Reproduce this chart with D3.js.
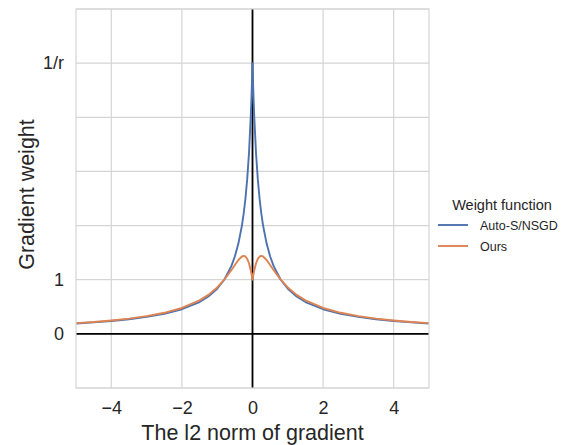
<!DOCTYPE html>
<html>
<head>
<meta charset="utf-8">
<script src="https://cdn.jsdelivr.net/npm/d3@7"></script>
<style>
  body { margin: 0; background: #fff; }
  svg { font-family: "Liberation Sans", Arial, sans-serif; }
  .grid line { stroke: #d5d5d5; stroke-width: 1.2; }
  .axis path, .axis line { display: none; }
  .axis text { font-size: 18px; fill: #262626; font-family: "Liberation Sans", Arial, sans-serif; }
</style>
</head>
<body>
<svg id="chart" width="574" height="445"></svg>
<script>
// gradient norm samples
var gradX = [-5, -4.5, -4, -3.5, -3, -2.5, -2, -1.5, -1.25, -1, -0.8, -0.6, -0.5, -0.4, -0.3, -0.25, -0.2, -0.15, -0.1, -0.05, -0.035, -0.02, -0.01,
    0, 0.01, 0.02, 0.035, 0.05, 0.1, 0.15, 0.2, 0.25, 0.3, 0.4, 0.5, 0.6, 0.8, 1, 1.25, 1.5, 2, 2.5, 3, 3.5, 4, 4.5, 5];
var autoS = [0.192, 0.213, 0.238, 0.270, 0.313, 0.370, 0.455, 0.588, 0.690, 0.833, 1.0, 1.25, 1.429, 1.667, 2.0, 2.222, 2.5, 2.857, 3.333, 4.0, 4.255, 4.545, 4.762,
    5.0, 4.762, 4.545, 4.255, 4.0, 3.333, 2.857, 2.5, 2.222, 2.0, 1.667, 1.429, 1.25, 1.0, 0.833, 0.690, 0.588, 0.455, 0.370, 0.313, 0.270, 0.238, 0.213, 0.192];
var ours = [0.199, 0.220, 0.247, 0.281, 0.327, 0.389, 0.478, 0.618, 0.720, 0.857, 1.0, 1.176, 1.273, 1.364, 1.429, 1.440, 1.429, 1.386, 1.304, 1.176, 1.128, 1.076, 1.039,
    1.0, 1.039, 1.076, 1.128, 1.176, 1.304, 1.386, 1.429, 1.440, 1.429, 1.364, 1.273, 1.176, 1.0, 0.857, 0.720, 0.618, 0.478, 0.389, 0.327, 0.281, 0.247, 0.220, 0.199];

var seriesNames = ["Auto-S/NSGD", "Ours"];
var seriesColors = ["#4c72b0", "#dd8452"];
var xTicks = [-4, -2, 0, 2, 4];
var yGrid = [-1, 0, 1, 2, 3, 4, 5, 6];
var yTicks = [0, 1, 5];
var yTickLabels = ["0", "1", "1/r"];

var margin = { top: 9, left: 76, right: 145, bottom: 57 };
var width = 574 - margin.left - margin.right,
    height = 445 - margin.top - margin.bottom;

var svg = d3.select("#chart");
var g = svg.append("g").attr("transform", "translate(" + margin.left + "," + margin.top + ")");

var x = d3.scaleLinear().domain([-5, 5]).range([0, width]);
var y = d3.scaleLinear().domain([-1, 6]).range([height, 0]);

g.append("g").attr("class", "grid")
    .selectAll("line").data(xTicks).enter().append("line")
    .attr("x1", d => x(d)).attr("x2", d => x(d)).attr("y1", 0).attr("y2", height);
g.append("g").attr("class", "grid")
    .selectAll("line").data(yGrid).enter().append("line")
    .attr("y1", d => y(d)).attr("y2", d => y(d)).attr("x1", 0).attr("x2", width);

g.append("defs").append("clipPath").attr("id", "clip")
    .append("rect").attr("width", width).attr("height", height);

// black zero lines
g.append("line").attr("x1", 0).attr("x2", width).attr("y1", y(0)).attr("y2", y(0))
    .attr("stroke", "#000").attr("stroke-width", 1.8);
g.append("line").attr("x1", x(0)).attr("x2", x(0)).attr("y1", 0).attr("y2", height)
    .attr("stroke", "#000").attr("stroke-width", 1.8);

var line = d3.line().x((d, i) => x(gradX[i])).y(d => y(d));
[autoS, ours].forEach(function(s, k) {
    g.append("path").datum(s)
        .attr("clip-path", "url(#clip)")
        .attr("fill", "none")
        .attr("stroke", seriesColors[k])
        .attr("stroke-width", 1.9)
        .attr("stroke-linejoin", "round")
        .attr("d", line);
});

// frame
g.append("rect").attr("width", width).attr("height", height)
    .attr("fill", "none").attr("stroke", "#d5d5d5").attr("stroke-width", 1.2);

g.append("g").attr("class", "axis")
    .attr("transform", "translate(0," + height + ")")
    .call(d3.axisBottom(x).tickValues(xTicks).tickSize(0).tickPadding(13));

g.append("g").attr("class", "axis")
    .call(d3.axisLeft(y).tickValues(yTicks).tickSize(0).tickPadding(12)
        .tickFormat((d, i) => yTickLabels[i]));

svg.append("text")
    .attr("x", margin.left + width / 2).attr("y", 440)
    .attr("text-anchor", "middle").attr("font-size", 21.5).attr("fill", "#262626")
    .text("The l2 norm of gradient");

svg.append("text")
    .attr("transform", "translate(34," + (margin.top + height / 2 - 4) + ") rotate(-90)")
    .attr("text-anchor", "middle").attr("font-size", 21.5).attr("fill", "#262626")
    .text("Gradient weight");

// legend
var leg = svg.append("g").attr("transform", "translate(438,0)");
leg.append("text").attr("x", 64).attr("y", 210)
    .attr("text-anchor", "middle").attr("font-size", 14.5).attr("fill", "#262626")
    .text("Weight function");
seriesNames.forEach(function(name, k) {
    var yy = 225 + k * 21;
    leg.append("line").attr("x1", 0).attr("x2", 30).attr("y1", yy).attr("y2", yy)
        .attr("stroke", seriesColors[k]).attr("stroke-width", 1.9);
    leg.append("text").attr("x", 42).attr("y", yy + 4.5)
        .attr("font-size", 12.5).attr("fill", "#262626").text(name);
});
</script>
</body>
</html>
